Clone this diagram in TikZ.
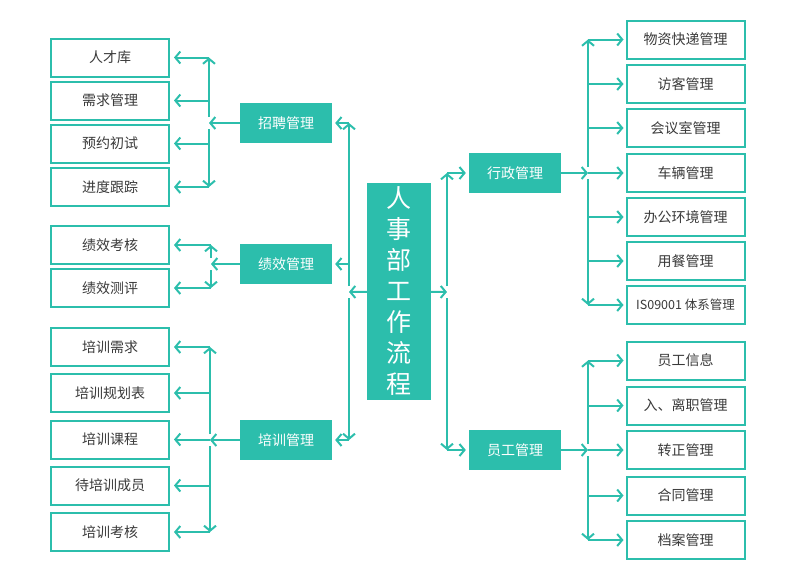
\documentclass[tikz,border=0pt]{standalone}
\usepackage{fontspec}
\setmainfont{Noto Sans CJK SC}
\usetikzlibrary{arrows.meta}
\definecolor{tealc}{RGB}{44,190,172}
\definecolor{textc}{RGB}{58,58,58}

\begin{document}
\begin{tikzpicture}[x=1pt,y=-1pt,
  item/.style={draw=tealc,line width=2pt,fill=white,minimum width=118pt,minimum height=38pt,
    text=textc,font=\fontsize{14}{16}\selectfont},
  group/.style={fill=tealc,minimum width=92pt,minimum height=40pt,text=white,font=\fontsize{14}{16}\selectfont},
  link/.style={draw=tealc,line width=2pt,-{Straight Barb[length=5pt,width=12pt]}}]

\useasboundingbox (0,0) rectangle (800,566);

\node[fill=tealc,minimum width=64pt,minimum height=217pt,text=white,align=center,
  font=\fontsize{25}{31}\selectfont] (main) at (399,291.5) {人\\事\\部\\工\\作\\流\\程};

\node[group] (zp) at (286,123) {招聘管理};
\node[group] (jx) at (286,264) {绩效管理};
\node[group] (px) at (286,440) {培训管理};
\node[group] (xz) at (515,173) {行政管理};
\node[group] (yg) at (515,450) {员工管理};

\foreach \t/\y [count=\i] in {人才库/57.5,需求管理/100.5,预约初试/143.5,进度跟踪/187}
\node[item] (zp\i) at (110,\y) {\t};

\foreach \t/\y [count=\i] in {绩效考核/245,绩效测评/288}
\node[item] (jx\i) at (110,\y) {\t};

\foreach \t/\y [count=\i] in {培训需求/347,培训规划表/393,培训课程/439.5,待培训成员/485.5,培训考核/532}
\node[item] (px\i) at (110,\y) {\t};

\foreach \t/\y [count=\i] in {物资快递管理/39.5,访客管理/84,会议室管理/128,车辆管理/173,办公环境管理/217,用餐管理/261,{\fontsize{12.5}{15}\selectfont IS09001 体系管理}/305}
\node[item] (xz\i) at (685.5,\y) {\t};

\foreach \t/\y [count=\i] in {员工信息/360.5,入、离职管理/405.5,转正管理/450,合同管理/495.5,档案管理/540}
\node[item] (yg\i) at (685.5,\y) {\t};

\coordinate (lb) at (349,292);
\coordinate (rb) at (447,292);
\coordinate (zpb) at (209,123);
\coordinate (jxb) at (211,264);
\coordinate (pxb) at (210,440);
\coordinate (xzb) at (588,173);
\coordinate (ygb) at (588,450);

\draw[link] (main) -- (lb);
\draw[link] ([yshift=6pt]lb) -- (lb |- zp);
\draw[link] ([yshift=-6pt]lb) -- (lb |- px);
\foreach \n in {zp,jx,px}
\draw[link,shorten >=3pt] (lb |- \n) -- (\n);

\draw[link] (main) -- (rb);
\draw[link] ([yshift=6pt]rb) -- (rb |- xz);
\draw[link] ([yshift=-6pt]rb) -- (rb |- yg);
\foreach \n in {xz,yg}
\draw[link,shorten >=3pt] (rb |- \n) -- (\n);

\draw[link] (zp) -- (zpb);
\draw[link] ([yshift=6pt]zpb) -- (zpb |- zp1);
\draw[link] ([yshift=-6pt]zpb) -- (zpb |- zp4);
\foreach \i in {1,...,4}
\draw[link,shorten >=4pt] (zpb |- zp\i) -- (zp\i);

\draw[link] (jx) -- (jxb);
\draw[link] ([yshift=6pt]jxb) -- (jxb |- jx1);
\draw[link] ([yshift=-6pt]jxb) -- (jxb |- jx2);
\foreach \i in {1,2}
\draw[link,shorten >=4pt] (jxb |- jx\i) -- (jx\i);

\draw[link] (px) -- (pxb);
\draw[link] ([yshift=6pt]pxb) -- (pxb |- px1);
\draw[link] ([yshift=-6pt]pxb) -- (pxb |- px5);
\foreach \i in {1,...,5}
\draw[link,shorten >=4pt] (pxb |- px\i) -- (px\i);

\draw[link] (xz) -- (xzb);
\draw[link] ([yshift=6pt]xzb) -- (xzb |- xz1);
\draw[link] ([yshift=-6pt]xzb) -- (xzb |- xz7);
\foreach \i in {1,...,7}
\draw[link,shorten >=2pt] (xzb |- xz\i) -- (xz\i);

\draw[link] (yg) -- (ygb);
\draw[link] ([yshift=6pt]ygb) -- (ygb |- yg1);
\draw[link] ([yshift=-6pt]ygb) -- (ygb |- yg5);
\foreach \i in {1,...,5}
\draw[link,shorten >=2pt] (ygb |- yg\i) -- (yg\i);
\end{tikzpicture}
\end{document}
